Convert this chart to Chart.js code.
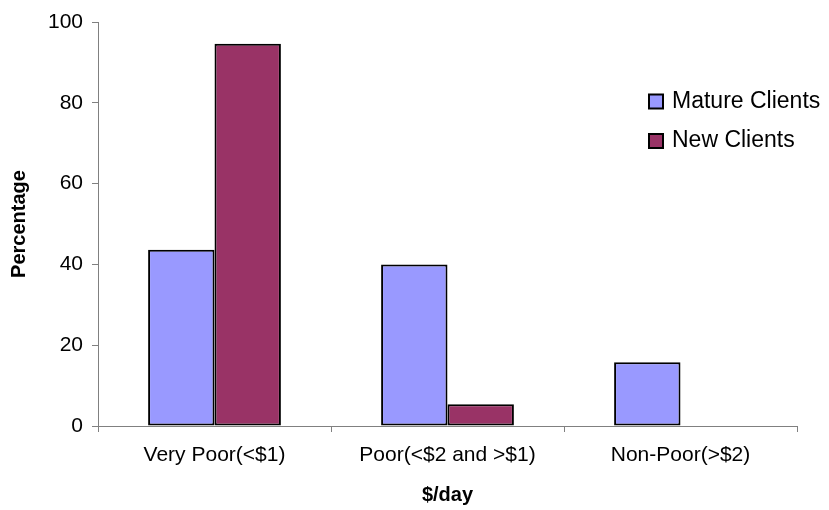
<!DOCTYPE html>
<html>
<head>
<meta charset="utf-8">
<script src="https://cdn.jsdelivr.net/npm/chart.js@4.4.1/dist/chart.umd.min.js"></script>
<style>
html,body{margin:0;padding:0;background:#fff;}
#wrap{width:829px;height:510px;position:relative;}
</style>
</head>
<body>
<div id="wrap"><canvas id="c" width="829" height="510"></canvas></div>
<script>
const categories = ["Very Poor(<$1)", "Poor(<$2 and >$1)", "Non-Poor(>$2)"];
const matureClients = [43.6, 40.0, 15.8];
const newClients = [94.6, 5.4, 0];
const seriesNames = ["Mature Clients", "New Clients"];
const yTicks = [0, 20, 40, 60, 80, 100];

const FONT = "'Liberation Sans', Arial, sans-serif";

const legendPlugin = {
  id: 'insideLegend',
  afterDraw(chart) {
    const ctx = chart.ctx;
    ctx.save();
    ctx.font = "23px " + FONT;
    ctx.textBaseline = 'middle';
    ctx.textAlign = 'left';
    const x0 = 649, ys = [101.5, 141];
    chart.data.datasets.forEach((ds, i) => {
      const y = ys[i];
      ctx.fillStyle = ds.backgroundColor;
      ctx.fillRect(x0, y - 7, 14, 14);
      ctx.lineWidth = 2;
      ctx.strokeStyle = '#000';
      ctx.strokeRect(x0, y - 7, 14, 14);
      ctx.fillStyle = '#000';
      ctx.fillText(ds.label, x0 + 23, y);
    });
    ctx.restore();
  }
};

new Chart(document.getElementById('c'), {
  type: 'bar',
  data: {
    labels: categories,
    datasets: [
      { label: seriesNames[0], data: matureClients, backgroundColor: '#9999FF', borderColor: '#000', borderWidth: 2, borderSkipped: false, categoryPercentage: 0.57, barPercentage: 1.0 },
      { label: seriesNames[1], data: newClients, backgroundColor: '#993366', borderColor: '#000', borderWidth: 2, borderSkipped: false, categoryPercentage: 0.57, barPercentage: 1.0 }
    ]
  },
  options: {
    responsive: false,
    animation: false,
    layout: { padding: { top: 22, right: 32, left: 0, bottom: 0 } },
    plugins: { legend: { display: false }, tooltip: { enabled: false } },
    scales: {
      x: {
        grid: { drawOnChartArea: false, offset: true, tickLength: 6, color: '#808080' },
        border: { color: '#808080', width: 1 },
        ticks: { color: '#000', font: { family: FONT, size: 21 }, padding: 11, maxRotation: 0 },
        title: { display: true, text: '$/day', color: '#000', font: { family: FONT, size: 20, weight: 'bold' }, padding: { top: 0, bottom: 3 } },
        afterFit(scale) { scale.height = 84; }
      },
      y: {
        min: 0, max: 100,
        afterBuildTicks(scale) { scale.ticks = yTicks.map(v => ({ value: v })); },
        grid: { drawOnChartArea: false, tickLength: 6, color: '#808080' },
        border: { color: '#808080', width: 1 },
        ticks: { color: '#000', font: { family: FONT, size: 21 }, padding: 9 },
        title: { display: true, text: 'Percentage', color: '#000', font: { family: FONT, size: 20, weight: 'bold' }, padding: { top: 7, bottom: 0 } },
        afterFit(scale) { scale.width = 98; }
      }
    }
  },
  plugins: [legendPlugin]
});
</script>
</body>
</html>
